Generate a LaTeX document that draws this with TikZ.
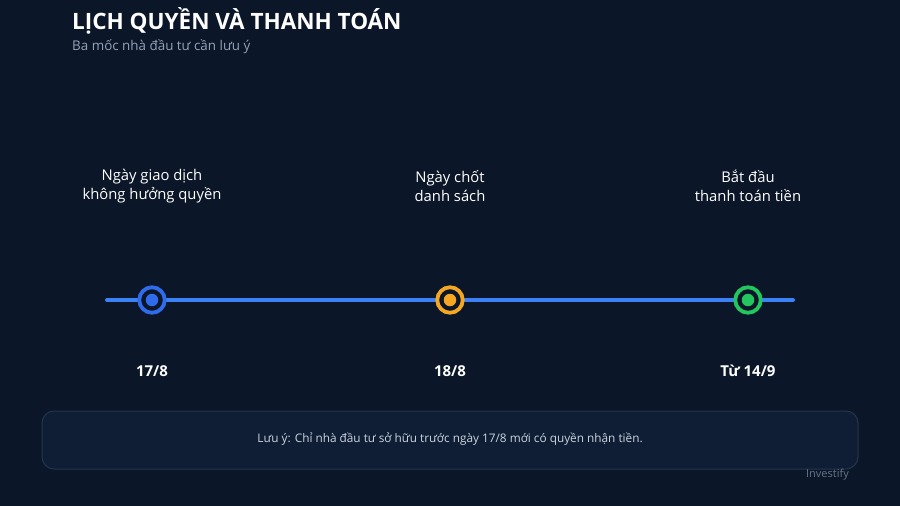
\documentclass[tikz,border=0pt]{standalone}
\usepackage{fontspec}
\setmainfont{Open Sans}
\definecolor{bg}{HTML}{0B1628}
\definecolor{boxfill}{HTML}{0F1E35}
\definecolor{boxline}{HTML}{22354F}
\definecolor{lineblue}{HTML}{3B82F6}
\definecolor{cblue}{HTML}{2F6BEA}
\definecolor{camber}{HTML}{F5A623}
\definecolor{cgreen}{HTML}{22C55E}
\definecolor{subgray}{HTML}{94A3B8}
\definecolor{notetext}{HTML}{CBD5E1}
\definecolor{brand}{HTML}{64748B}
\tikzset{
  milestone/.style={circle, draw=#1, line width=3.8pt, minimum size=25.5pt, inner sep=0pt, fill=bg},
  dot/.style={circle, fill=#1, minimum size=12.5pt, inner sep=0pt},
  toplabel/.style={text=white, font=\fontsize{14.8}{18.5}\selectfont, align=center},
  datelabel/.style={text=white, font=\fontsize{15}{18}\selectfont\bfseries},
}
\begin{document}
\begin{tikzpicture}[x=1pt,y=-1pt]
\useasboundingbox (0,0) rectangle (900,506);
\fill[bg] (0,0) rectangle (900,506);
% title
\node[anchor=base west, text=white, font=\fontsize{22.5}{26}\selectfont\bfseries, inner sep=0pt] (title) at (72,29) {LỊCH QUYỀN VÀ THANH TOÁN};
\node[anchor=base west, text=subgray, font=\fontsize{13.4}{16}\selectfont, inner sep=0pt] (subtitle) at (72,50) {Ba mốc nhà đầu tư cần lưu ý};
% timeline
\coordinate (tl) at (107,300);
\coordinate (tr) at (793,300);
\draw[lineblue, line width=4pt, line cap=round] (tl) -- (tr);
\node[milestone=cblue] (m1) at (152,300) {};
\node[dot=cblue] (d1) at (m1) {};
\node[milestone=camber] (m2) at (450,300) {};
\node[dot=camber] (d2) at (m2) {};
\node[milestone=cgreen] (m3) at (748,300) {};
\node[dot=cgreen] (d3) at (m3) {};
% labels
\node[toplabel] (l1) at (152,186) {Ngày giao dịch\\không hưởng quyền};
\node[toplabel] (l2) at (450,186) {Ngày chốt\\danh sách};
\node[toplabel] (l3) at (748,186) {Bắt đầu\\thanh toán tiền};
\node[datelabel] (t1) at (152,371) {17/8};
\node[datelabel] (t2) at (450,371) {18/8};
\node[datelabel] (t3) at (748,371) {Từ 14/9};
% note
\draw[fill=boxfill, draw=boxline, line width=1pt, rounded corners=12pt] (42,411) rectangle (858,469);
\node[text=notetext, font=\fontsize{11.8}{14}\selectfont] (note) at (450,439) {Lưu ý: Chỉ nhà đầu tư sở hữu trước ngày 17/8 mới có quyền nhận tiền.};
\node[text=brand, font=\fontsize{11}{13}\selectfont, anchor=east, inner sep=0pt] (brand) at (849,475) {Investify};
\end{tikzpicture}
\end{document}
